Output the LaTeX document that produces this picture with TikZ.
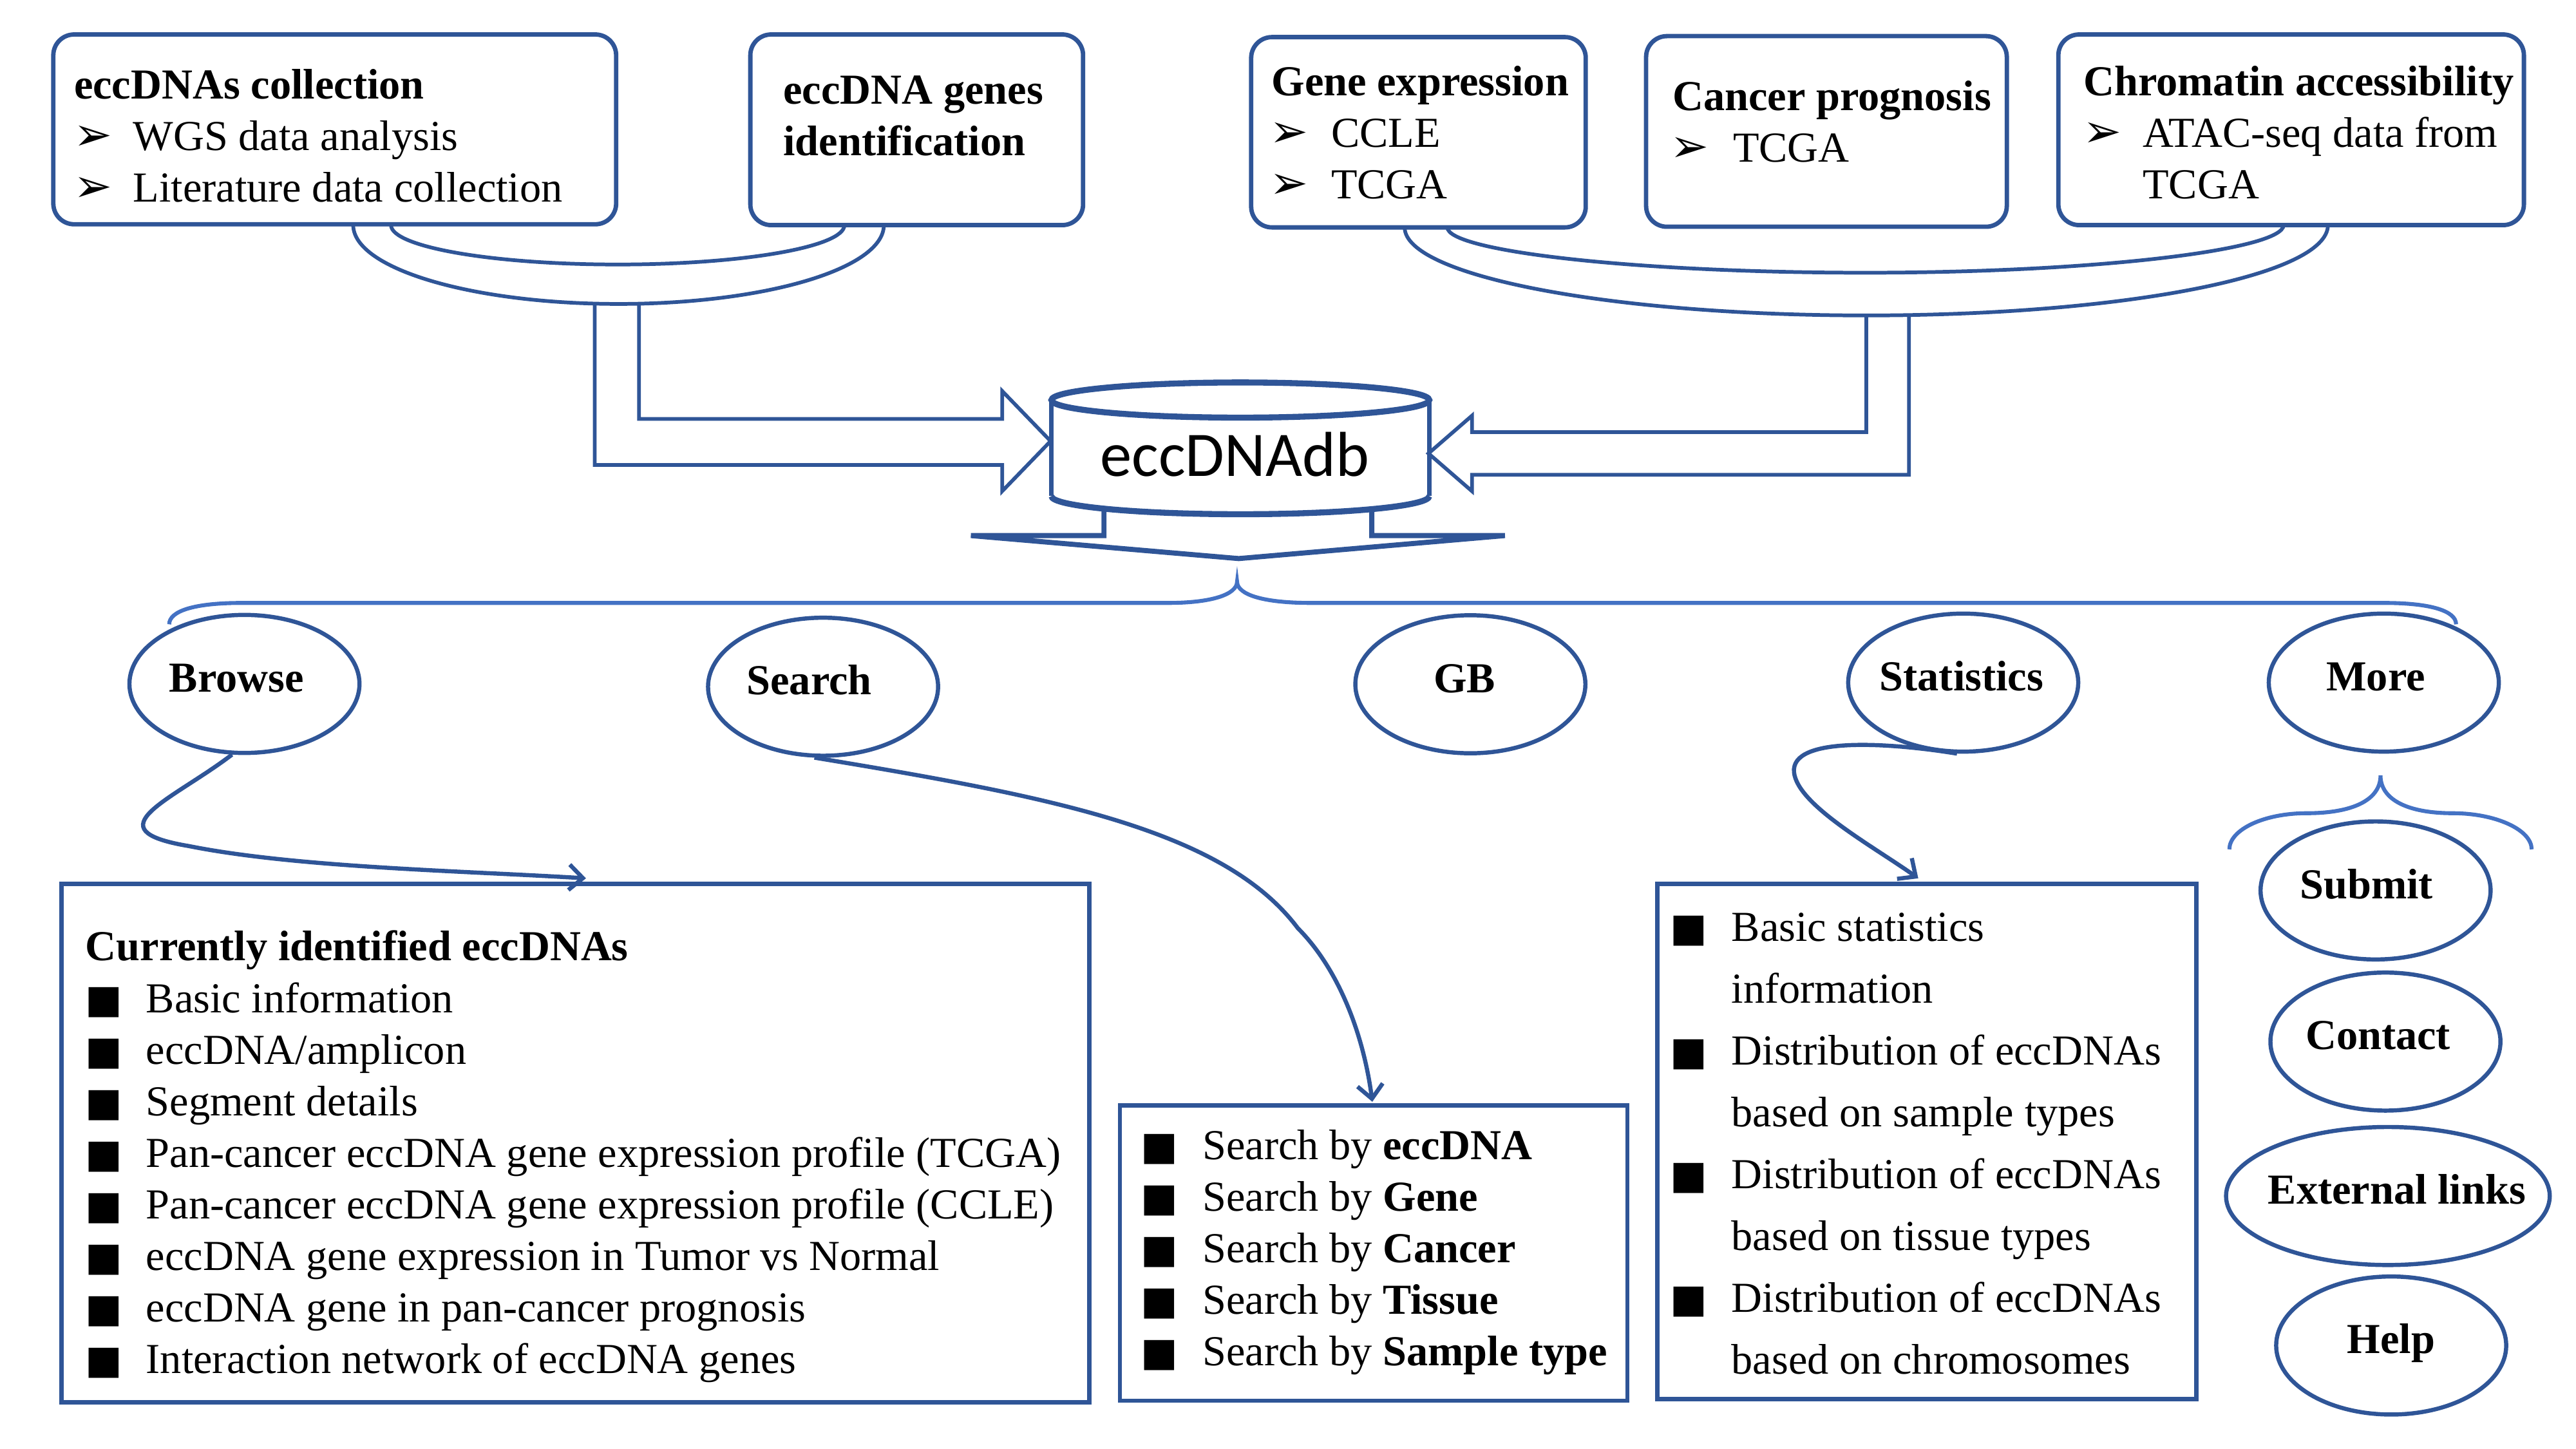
\documentclass[tikz,border=0pt]{standalone}
\usepackage{fontspec}
\setmainfont{Liberation Serif}
\newfontfamily\calib{Carlito}
\newfontfamily\djv{DejaVu Sans}
\usetikzlibrary{shapes.geometric,arrows.meta,calc}
\definecolor{dblue}{RGB}{47,85,151}
\definecolor{lblue}{RGB}{68,114,196}
\newcommand\arr{{\fontsize{20}{20}\djv ➢}}
\newcommand\sq{{\fontsize{17}{17}\djv ■}}
\newcommand\et[2]{\makebox[0pt]{\hspace*{#1}#2\hspace*{-#1}}}
\begin{document}
\begin{tikzpicture}[x=0.025cm,y=-0.025cm,
  txt/.style={anchor=base west,inner sep=0pt,font=\fontsize{18.5}{22}\selectfont},
  hd/.style={anchor=base west,inner sep=0pt,font=\fontsize{18.5}{22}\selectfont\bfseries},
  bul/.style={anchor=base west,inner sep=0pt},
  rbox/.style={draw=dblue,line width=1.9pt,rounded corners=9pt,inner sep=0pt},
  sbox/.style={draw=dblue,line width=1.9pt,inner sep=0pt},
  oval/.style={ellipse,draw=dblue,line width=1.8pt,inner sep=0pt,minimum width=3.5cm,minimum height=2.1cm,text height=12pt,text depth=5pt,font=\fontsize{18.5}{22}\selectfont\bfseries},
  hollow/.style={draw=dblue,line width=1.6pt,line join=miter},
  link/.style={draw=dblue,line width=1.8pt,-{Straight Barb[length=6pt,width=11pt]}},
  brace/.style={draw=lblue,line width=1.7pt}]
\useasboundingbox (0,0) rectangle (1568,882);

% top boxes
\node[rbox,minimum width=8.5625cm,minimum height=2.8875cm] (c1) at (203.75,78.75) {};
\node[rbox,minimum width=5.0625cm,minimum height=2.9cm] (c2) at (558,79) {};
\node[rbox,minimum width=5.09cm,minimum height=2.895cm] (c3) at (863.4,80.5) {};
\node[rbox,minimum width=5.4875cm,minimum height=2.9cm] (c4) at (1111.75,80) {};
\node[rbox,minimum width=7.0825cm,minimum height=2.9cm] (c5) at (1394.6,79) {};

\node[hd] (c1h) at (44.8,60) {eccDNAs collection};
\node[bul] (c1b1) at (44.5,91.5) {\arr};
\node[txt] (c1t1) at (80.7,91.5) {WGS data analysis};
\node[bul] (c1b2) at (44.5,122.7) {\arr};
\node[txt] (c1t2) at (80.7,122.7) {Literature data collection};

\node[hd] (c2h) at (476.5,63.5) {eccDNA genes};
\node[hd] (c2h2) at (476.5,94.5) {identification};

\node[hd] (c3h) at (773.7,58.3) {Gene expression};
\node[bul] (c3b1) at (772.5,89.6) {\arr};
\node[txt] (c3t1) at (810,89.6) {CCLE};
\node[bul] (c3b2) at (772.5,121) {\arr};
\node[txt] (c3t2) at (810,121) {TCGA};

\node[hd] (c4h) at (1017.8,67.4) {Cancer prognosis};
\node[bul] (c4b1) at (1016.5,98.4) {\arr};
\node[txt] (c4t1) at (1054.6,98.4) {TCGA};

\node[hd] (c5h) at (1268,58.3) {Chromatin accessibility};
\node[bul] (c5b1) at (1267.5,89.6) {\arr};
\node[txt] (c5t1) at (1304,89.6) {ATAC-seq data from};
\node[txt] (c5t2) at (1304,121) {TCGA};

% left hollow connector
\draw[hollow] (215,137) .. controls (215,163.5) and (287.3,185) .. (376.5,185) .. controls (465.7,185) and (538,163.5) .. (538,137);
\draw[hollow] (238,137) .. controls (238,150.3) and (299.8,161) .. (376,161) .. controls (452.2,161) and (514,150.3) .. (514,137);
\draw[hollow] (389,184.5) -- (389,255) -- (610,255) -- (610,238) -- (639.5,268.5) -- (610,299) -- (610,283) -- (362,283) -- (362,184.7);

% right hollow connector
\draw[hollow] (855,138.4) .. controls (855,168) and (980.8,192) .. (1136,192) .. controls (1291.2,192) and (1417,168) .. (1417,137);
\draw[hollow] (881,138.4) .. controls (881,152.9) and (995,166) .. (1135.5,166) .. controls (1276,166) and (1390,152) .. (1390,137);
\draw[hollow] (1136,192) -- (1136,263) -- (896,263) -- (896,253) -- (869.5,276) -- (896,299) -- (896,289) -- (1162,289) -- (1162,191.8);

% database cylinder
\node[inner sep=0pt,anchor=base,font=\calib\fontsize{27.5}{30}\selectfont] (db) at (751.5,290) {eccDNAdb};
\draw[dblue,line width=1.9pt] (640,243.5) -- (640,302) (870,243.5) -- (870,302);
\draw[dblue,line width=2.6pt] (755,243.5) ellipse [x radius=115, y radius=10.7];
\draw[dblue,line width=2.6pt] (640,302) .. controls (640,308.1) and (691.5,313) .. (755,313) .. controls (818.5,313) and (870,308.1) .. (870,302);

% down arrow
\draw[hollow,line width=2.2pt] (672,309.6) -- (672,326) -- (591,326) -- (754,340) -- (916,326) -- (835,326) -- (835,309.9);

% big brace
\draw[brace] (103,380) .. controls (103,372) and (118,367) .. (147,367) -- (711,367) .. controls (737,367) and (753,362) .. (753,354) .. controls (753,362) and (769,367) .. (798,367) -- (1451,367) .. controls (1480,367) and (1495,372) .. (1495,380);

% ovals
\node[oval] (browse) at (148.8,416.3) {\et{-3.4pt}{Browse}};
\node[oval] (search) at (501,418) {\et{-6pt}{Search}};
\node[oval] (gb) at (895,416.5) {\et{-2.5pt}{GB}};
\node[oval] (stat) at (1195,415.5) {\et{-0.7pt}{Statistics}};
\node[oval] (more) at (1451,415.5) {\et{-3.5pt}{More}};
\node[oval] (submit) at (1446,542) {\et{-3.9pt}{Submit}};
\node[oval] (contact) at (1452,634) {\et{-3.2pt}{Contact}};
\node[oval,minimum width=4.925cm] (ext) at (1453.5,728) {\et{3.9pt}{External links}};
\node[oval] (help) at (1455.5,819) {\et{0pt}{Help}};

% small brace
\draw[brace] (1357,517) .. controls (1357,505) and (1378,495) .. (1404,495) .. controls (1432,495) and (1449,487) .. (1449,472) .. controls (1449,487) and (1466,495) .. (1493,495) .. controls (1519,495) and (1541,505) .. (1541,517);

% bottom boxes
\node[sbox,minimum width=15.635cm,minimum height=7.8875cm] (bbox) at (350.3,695.75) {};
\node[sbox,minimum width=7.72cm,minimum height=4.49cm] (sbx) at (836.1,762.8) {};
\node[sbox,minimum width=8.195cm,minimum height=7.8375cm] (tbox) at (1172.9,694.75) {};

\node[hd] (bh) at (51.8,584.6) {Currently identified eccDNAs};
\foreach \t [count=\i] in {Basic information,{eccDNA/amplicon},Segment details,Pan-cancer eccDNA gene expression profile (TCGA),Pan-cancer eccDNA gene expression profile (CCLE),eccDNA gene expression in Tumor vs Normal,eccDNA gene in pan-cancer prognosis,Interaction network of eccDNA genes}{
  \node[bul] (bs\i) at (51.5,{616.4+(\i-1)*31.35}) {\sq};
  \node[txt] (bt\i) at (88.6,{616.4+(\i-1)*31.35}) {\t};
}
\foreach \t [count=\i] in {eccDNA,Gene,Cancer,Tissue,Sample type}{
  \node[bul] (ss\i) at (694,{705.6+(\i-1)*31.45}) {\sq};
  \node[txt] (st\i) at (731.7,{705.6+(\i-1)*31.45}) {Search by \textbf{\t}};
}
\foreach \t/\b [count=\i] in {Basic statistics/1,information/0,Distribution of eccDNAs/1,based on sample types/0,Distribution of eccDNAs/1,based on tissue types/0,Distribution of eccDNAs/1,based on chromosomes/0}{
  \ifnum\b=1 \node[bul] (ts\i) at (1016.5,{573+(\i-1)*37.6}) {\sq};\fi
  \node[txt] (tt\i) at (1053.7,{573+(\i-1)*37.6}) {\t};
}

% connectors
\draw[link] (browse.260) .. controls (105,487) and (55,505) .. (115,515) .. controls (180,528) and (280,530) .. ($(bbox.north west)+(320.5,-2)$);
\draw[link] (search.263) .. controls (640,485) and (745,505) .. (790,565) .. controls (815,590) and (830,630) .. ($(sbx.north west)+(155,-1)$);
\draw[link] (stat.265) .. controls (1150,452) and (1090,448) .. (1092,470) .. controls (1094,490) and (1140,515) .. ($(tbox.north west)+(160,-2)$);
\end{tikzpicture}
\end{document}
